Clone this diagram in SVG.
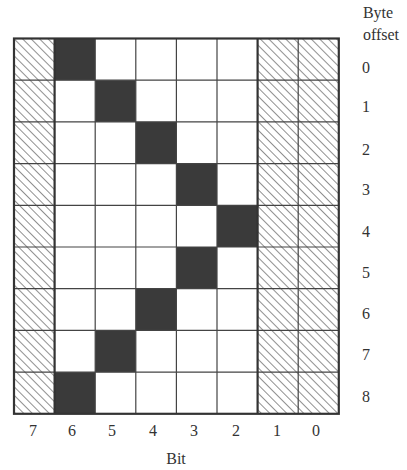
<svg xmlns="http://www.w3.org/2000/svg" width="407" height="470" viewBox="0 0 407 470">
<defs>
<pattern id="hatch" patternUnits="userSpaceOnUse" width="6" height="6" patternTransform="rotate(-45)">
<line x1="0" y1="0" x2="0" y2="6" stroke="#333" stroke-width="1.1"/>
</pattern>
<style>
.t{font-family:"Liberation Serif","Times New Roman",serif;font-size:16px;fill:#333;text-anchor:middle}
.d{fill:#3a3a3a}
.h{fill:url(#hatch)}
.g{stroke:#444;stroke-width:1.2;fill:none}
.b{stroke:#333;stroke-width:2.2;fill:none}
</style>
</defs>
<rect width="407" height="470" fill="#fff"/>
<g id="hatched">
<rect class="h" x="14" y="38.5" width="40.6" height="375.3"/>
<rect class="h" x="257.6" y="38.5" width="81.2" height="375.3"/>
</g>
<g id="dark">
<rect class="d" x="54.6" y="38.5" width="40.6" height="41.7"/>
<rect class="d" x="95.2" y="80.2" width="40.6" height="41.7"/>
<rect class="d" x="135.8" y="121.9" width="40.6" height="41.7"/>
<rect class="d" x="176.4" y="163.6" width="40.6" height="41.7"/>
<rect class="d" x="217" y="205.3" width="40.6" height="41.7"/>
<rect class="d" x="176.4" y="247" width="40.6" height="41.7"/>
<rect class="d" x="135.8" y="288.7" width="40.6" height="41.7"/>
<rect class="d" x="95.2" y="330.4" width="40.6" height="41.7"/>
<rect class="d" x="54.6" y="372.1" width="40.6" height="41.7"/>
</g>
<g id="grid">
<path class="g" d="M95.2 38.5V413.8M135.8 38.5V413.8M176.4 38.5V413.8M217 38.5V413.8M298.2 38.5V413.8M14 80.2H338.8M14 121.9H338.8M14 163.6H338.8M14 205.3H338.8M14 247H338.8M14 288.7H338.8M14 330.4H338.8M14 372.1H338.8"/>
<path class="b" d="M54.6 38.5V413.8M257.6 38.5V413.8"/>
<rect class="b" x="14" y="38.5" width="324.8" height="375.3"/>
</g>
<g id="bits">
<text class="t" x="33" y="436">7</text>
<text class="t" x="72" y="436">6</text>
<text class="t" x="112" y="436">5</text>
<text class="t" x="153" y="436">4</text>
<text class="t" x="194" y="436">3</text>
<text class="t" x="236" y="436">2</text>
<text class="t" x="277" y="436">1</text>
<text class="t" x="316" y="436">0</text>
<text class="t" x="176" y="464">Bit</text>
</g>
<g id="offsets">
<text class="t" x="378" y="18">Byte</text>
<text class="t" x="381" y="40">offset</text>
<text class="t" x="366" y="73">0</text>
<text class="t" x="366" y="112">1</text>
<text class="t" x="366" y="155">2</text>
<text class="t" x="366" y="195">3</text>
<text class="t" x="366" y="237">4</text>
<text class="t" x="366" y="278">5</text>
<text class="t" x="366" y="319">6</text>
<text class="t" x="366" y="360">7</text>
<text class="t" x="366" y="402">8</text>
</g>
</svg>
